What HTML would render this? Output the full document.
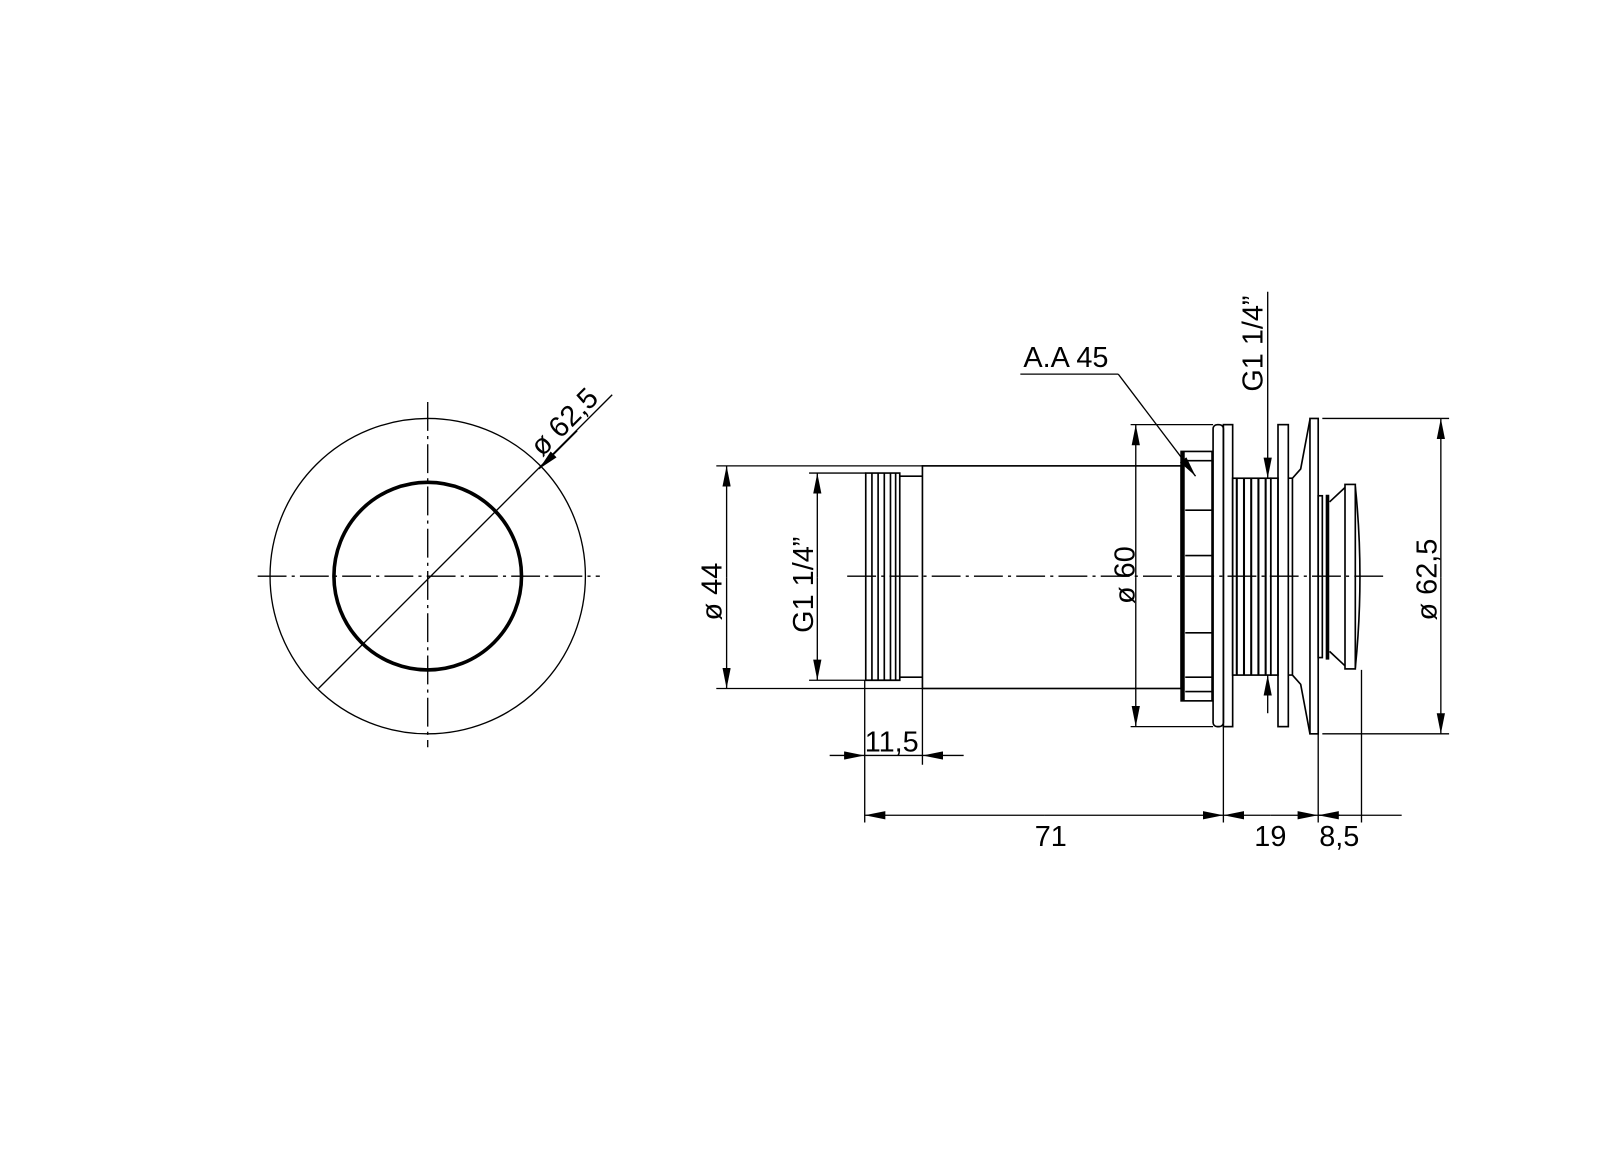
<!DOCTYPE html>
<html><head><meta charset="utf-8"><style>html,body{margin:0;padding:0;background:#fff}svg{display:block}</style></head>
<body>
<svg width="1614" height="1176" viewBox="0 0 1566 1141" xmlns="http://www.w3.org/2000/svg" font-family="Liberation Sans, Arial, sans-serif" font-size="28" fill="none" stroke="#000" stroke-width="1.3">
<defs>
<marker id="a" viewBox="0 0 20 8" refX="20" refY="4" markerWidth="20" markerHeight="8" markerUnits="userSpaceOnUse" orient="auto"><path d="M0,0 L20,4 L0,8z" fill="#000" stroke="none"/></marker>
</defs>
<circle cx="415" cy="559" r="153"/>
<circle cx="415" cy="559" r="91" stroke-width="3.5"/>
<g stroke-dasharray="28,5,3,5">
<line x1="250" y1="559" x2="582" y2="559"/>
<line x1="415" y1="390" x2="415" y2="725"/>
</g>
<line x1="309" y1="668" x2="594" y2="383"/>
<line x1="560" y1="418" x2="523" y2="455" marker-end="url(#a)"/>
<text x="0" y="0" fill="#000" stroke="none" transform="translate(526,444) rotate(-45)">ø 62,5</text>

<line x1="822" y1="559" x2="1345" y2="559" stroke-dasharray="28,5,3,5"/>
<g stroke-width="1.6">
<path d="M840,459 L873,459 L873,660 L840,660 Z"/>
<line x1="846" y1="459" x2="846" y2="660"/><line x1="852" y1="459" x2="852" y2="660"/><line x1="858" y1="459" x2="858" y2="660"/><line x1="864" y1="459" x2="864" y2="660"/><line x1="869" y1="459" x2="869" y2="660"/>
<path d="M873,462 L895,462 M873,657 L895,657"/>
<rect x="895" y="452" width="251" height="216"/>
<rect x="1146" y="438" width="30" height="242"/>
<line x1="1148" y1="438" x2="1148" y2="680" stroke-width="3"/>
<path d="M1150,447 H1176 M1150,495 H1176 M1150,539 H1176 M1150,614 H1176 M1150,657 H1176 M1150,671 H1176"/>
<rect x="1177" y="412" width="10" height="293" rx="4"/>
<rect x="1187" y="412" width="9" height="293"/>
<rect x="1196" y="464" width="37" height="191"/>
<g stroke-width="2"><line x1="1200" y1="464" x2="1200" y2="655"/><line x1="1207" y1="464" x2="1207" y2="655"/><line x1="1214" y1="464" x2="1214" y2="655"/><line x1="1221" y1="464" x2="1221" y2="655"/><line x1="1228" y1="464" x2="1228" y2="655"/></g>
<rect x="1233" y="464" width="7" height="191"/>
<rect x="1240" y="412" width="10" height="293"/>
<path d="M1250,464 H1254 V655 H1250 M1254,464 L1262,455 L1271,407 M1254,655 L1262,664 L1271,712"/>
<rect x="1271" y="406" width="8" height="306"/>
<rect x="1279" y="481" width="4" height="157"/>
<line x1="1288" y1="480" x2="1288" y2="640" stroke-width="3.5"/>
<path d="M1290,487 L1305,473 M1290,632 L1305,646"/>
<rect x="1305" y="470" width="10" height="179"/>
<path d="M1315,472 Q1324,559 1315,648"/>
</g>

<path d="M695,452 H895 M695,668 H895"/>
<line x1="705" y1="560" x2="705" y2="452" marker-end="url(#a)"/>
<line x1="705" y1="560" x2="705" y2="668" marker-end="url(#a)"/>
<text transform="translate(700,602) rotate(-90)" fill="#000" stroke="none">ø 44</text>
<path d="M785,459 H840 M785,660 H840"/>
<line x1="793" y1="560" x2="793" y2="459" marker-end="url(#a)"/>
<line x1="793" y1="560" x2="793" y2="660" marker-end="url(#a)"/>
<text transform="translate(789,614) rotate(-90)" fill="#000" stroke="none">G1 1/4”</text>
<path d="M1097,412 H1177 M1097,705 H1177"/>
<line x1="1102" y1="560" x2="1102" y2="412" marker-end="url(#a)"/>
<line x1="1102" y1="560" x2="1102" y2="705" marker-end="url(#a)"/>
<text transform="translate(1101,586) rotate(-90)" fill="#000" stroke="none">ø 60</text>
<path d="M1283,406 H1406 M1283,712 H1406"/>
<line x1="1398" y1="560" x2="1398" y2="406" marker-end="url(#a)"/>
<line x1="1398" y1="560" x2="1398" y2="712" marker-end="url(#a)"/>
<text transform="translate(1394,602) rotate(-90)" fill="#000" stroke="none">ø 62,5</text>
<text x="993" y="356" fill="#000" stroke="none">A.A 45</text>
<path d="M990,363 H1085"/>
<line x1="1085" y1="363" x2="1160" y2="462" marker-end="url(#a)"/>
<text transform="translate(1225,380) rotate(-90)" fill="#000" stroke="none">G1 1/4”</text>
<line x1="1230" y1="283" x2="1230" y2="464" marker-end="url(#a)"/>
<line x1="1230" y1="692" x2="1230" y2="655" marker-end="url(#a)"/>
<path d="M839,660 V798 M895,668 V742 M1187,705 V798 M1279,712 V798 M1321,650 V798"/>
<line x1="805" y1="733" x2="839" y2="733" marker-end="url(#a)"/>
<line x1="935" y1="733" x2="895" y2="733" marker-end="url(#a)"/>
<line x1="839" y1="733" x2="895" y2="733"/>
<text x="839" y="729" fill="#000" stroke="none">11,5</text>
<line x1="1013" y1="791" x2="839" y2="791" marker-end="url(#a)"/>
<line x1="1013" y1="791" x2="1187" y2="791" marker-end="url(#a)"/>
<line x1="1233" y1="791" x2="1187" y2="791" marker-end="url(#a)"/>
<line x1="1233" y1="791" x2="1279" y2="791" marker-end="url(#a)"/>
<line x1="1360" y1="791" x2="1321" y2="791"/>
<line x1="1279" y1="791" x2="1321" y2="791"/>
<line x1="1300" y1="791" x2="1279" y2="791" marker-end="url(#a)"/>
<text x="1004" y="821" fill="#000" stroke="none">71</text>
<text x="1217" y="821" fill="#000" stroke="none">19</text>
<text x="1280" y="821" fill="#000" stroke="none">8,5</text>
</svg>
</body></html>
